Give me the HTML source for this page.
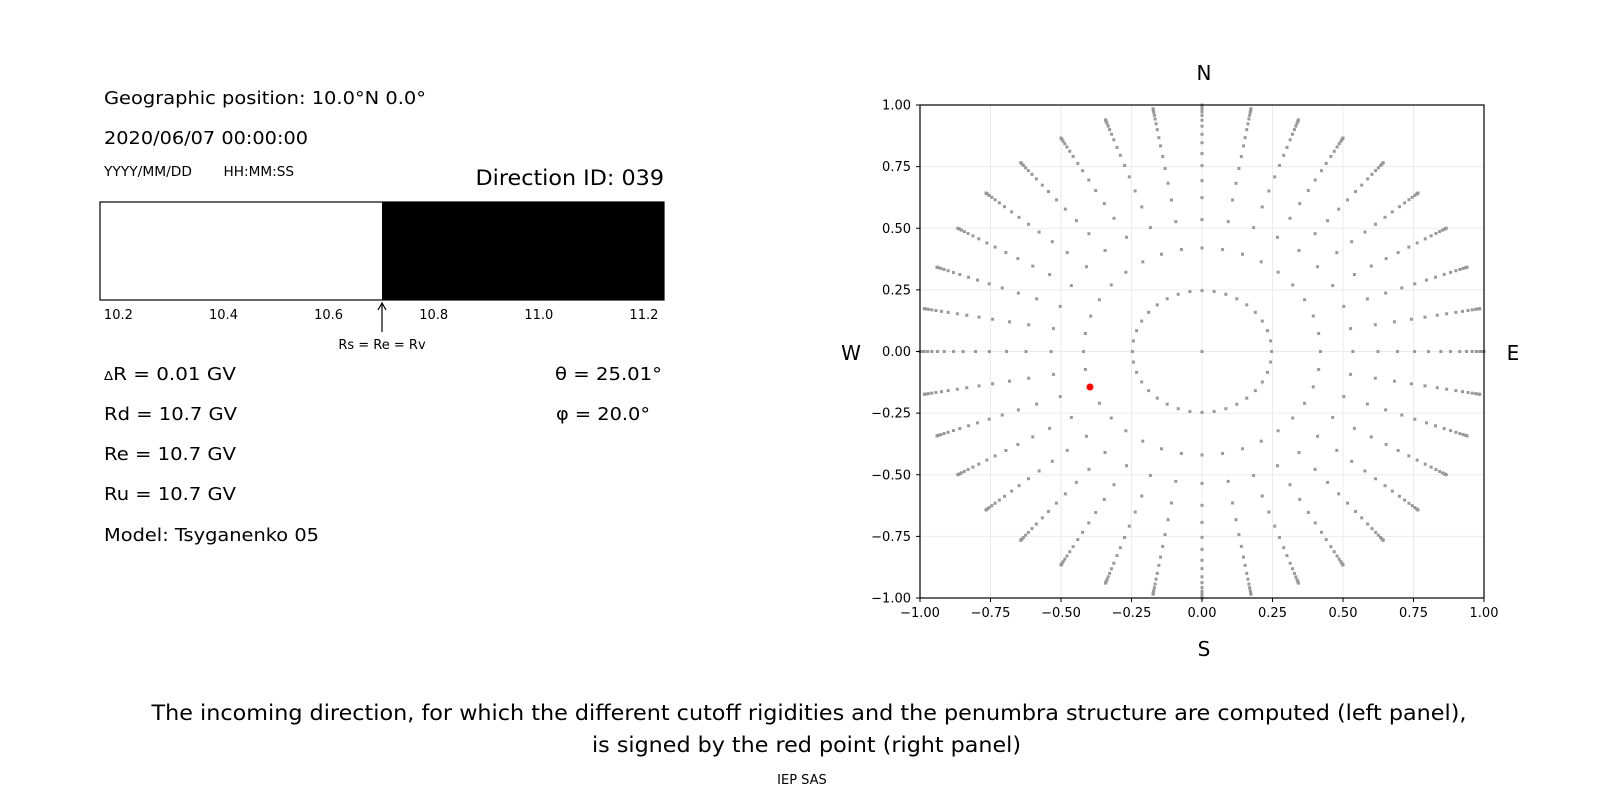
<!DOCTYPE html>
<html><head><meta charset="utf-8"><style>
html,body{margin:0;padding:0;background:#fff;width:1600px;height:800px;overflow:hidden}
svg text{font-family:"DejaVu Sans","Liberation Sans",sans-serif;fill:#000}
</style></head><body>
<svg id="s" width="1600" height="800" viewBox="0 0 1600 800" xmlns="http://www.w3.org/2000/svg">
<rect width="1600" height="800" fill="#fff"/>
<!-- left panel -->
<text x="104" y="104" font-size="18" textLength="322" lengthAdjust="spacingAndGlyphs">Geographic position: 10.0°N 0.0°</text>
<text x="104" y="144" font-size="18" textLength="204" lengthAdjust="spacingAndGlyphs">2020/06/07 00:00:00</text>
<text x="104" y="176" font-size="13" textLength="88" lengthAdjust="spacingAndGlyphs">YYYY/MM/DD</text>
<text x="223.5" y="176" font-size="13" textLength="70.5" lengthAdjust="spacingAndGlyphs">HH:MM:SS</text>
<text x="475.5" y="185" font-size="21" textLength="188.5" lengthAdjust="spacingAndGlyphs">Direction ID: 039</text>
<rect x="100" y="202" width="564" height="98" fill="#fff" stroke="#000" stroke-width="1.2"/>
<rect x="382" y="202" width="282" height="98" fill="#000"/>
<g font-size="13" text-anchor="middle">
<text x="118.4" y="319">10.2</text>
<text x="223.5" y="319">10.4</text>
<text x="328.6" y="319">10.6</text>
<text x="433.7" y="319">10.8</text>
<text x="538.8" y="319">11.0</text>
<text x="643.9" y="319">11.2</text>
</g>
<line x1="382" y1="304" x2="382" y2="332" stroke="#000" stroke-width="1.2"/>
<path d="M378 310 L382 303 L386 310" fill="none" stroke="#000" stroke-width="1.2"/>
<text x="382" y="349" font-size="13" text-anchor="middle">Rs = Re = Rv</text>
<text x="104" y="380" font-size="18" textLength="132" lengthAdjust="spacingAndGlyphs"><tspan font-size="12">Δ</tspan>R = 0.01 GV</text>
<text x="104" y="420" font-size="18" textLength="133" lengthAdjust="spacingAndGlyphs">Rd = 10.7 GV</text>
<text x="104" y="460" font-size="18" textLength="132" lengthAdjust="spacingAndGlyphs">Re = 10.7 GV</text>
<text x="104" y="500" font-size="18" textLength="132" lengthAdjust="spacingAndGlyphs">Ru = 10.7 GV</text>
<text x="104" y="541" font-size="18" textLength="215" lengthAdjust="spacingAndGlyphs">Model: Tsyganenko 05</text>
<text x="555" y="380" font-size="18" textLength="107" lengthAdjust="spacingAndGlyphs">θ = 25.01°</text>
<text x="556" y="420" font-size="18" textLength="94" lengthAdjust="spacingAndGlyphs">φ = 20.0°</text>
<!-- right panel -->
<g id="grid" stroke="#ebebeb" stroke-width="1"></g>
<g id="dots" fill="#999"></g>
<circle cx="1090" cy="387" r="3.5" fill="#ff0000"/>
<rect x="920" y="105" width="564" height="493" fill="none" stroke="#000" stroke-width="1.2"/>
<g id="ticks" font-size="13"></g>
<g font-size="20" text-anchor="middle">
<text x="1204" y="80">N</text>
<text x="1204" y="656">S</text>
<text x="851" y="360">W</text>
<text x="1513" y="360">E</text>
</g>
<g font-size="21" text-anchor="middle">
<text x="809" y="720" textLength="1315" lengthAdjust="spacingAndGlyphs">The incoming direction, for which the different cutoff rigidities and the penumbra structure are computed (left panel),</text>
<text x="806.5" y="752" textLength="429" lengthAdjust="spacingAndGlyphs">is signed by the red point (right panel)</text>
</g>
<text x="802" y="784" font-size="13" text-anchor="middle">IEP SAS</text>
</svg>
<script>
var NS="http://www.w3.org/2000/svg";
var cx=1202,cy=351.5,ux=282,uy=246.5;
function el(t,a,p){var e=document.createElementNS(NS,t);for(var k in a)e.setAttribute(k,a[k]);p.appendChild(e);return e;}
var g=document.getElementById('grid'),d=document.getElementById('dots'),tk=document.getElementById('ticks');
var vals=[-1,-0.75,-0.5,-0.25,0,0.25,0.5,0.75,1];
var lab=["−1.00","−0.75","−0.50","−0.25","0.00","0.25","0.50","0.75","1.00"];
for(var i=0;i<9;i++){var v=vals[i];var x=cx+v*ux,y=cy-v*uy;
 if(i>0&&i<8){el('line',{x1:x,y1:105,x2:x,y2:598},g);el('line',{x1:920,y1:y,x2:1484,y2:y},g);}
 el('line',{x1:x,y1:598,x2:x,y2:602,stroke:'#000'},tk);
 el('line',{x1:916,y1:y,x2:920,y2:y,stroke:'#000'},tk);
 var t=el('text',{x:x,y:617,'text-anchor':'middle'},tk);t.textContent=lab[i];
 var t2=el('text',{x:911,y:y+4.5,'text-anchor':'end'},tk);t2.textContent=lab[i];}
var radii=[0.247,0.42,0.535,0.624,0.693,0.754,0.803,0.847,0.881,0.914,0.938,0.958,0.973,0.985,0.993,0.998,1.0];
el('rect',{x:cx-1.5,y:cy-1.5,width:3,height:3},d);
for(var a=0;a<360;a+=10){var r=a*Math.PI/180;
 for(var j=0;j<radii.length;j++){var R=radii[j];var x=cx+R*Math.sin(r)*ux,y=cy-R*Math.cos(r)*uy;
  el('rect',{x:x-1.5,y:y-1.5,width:3,height:3},d);}}
</script>
</body></html>
